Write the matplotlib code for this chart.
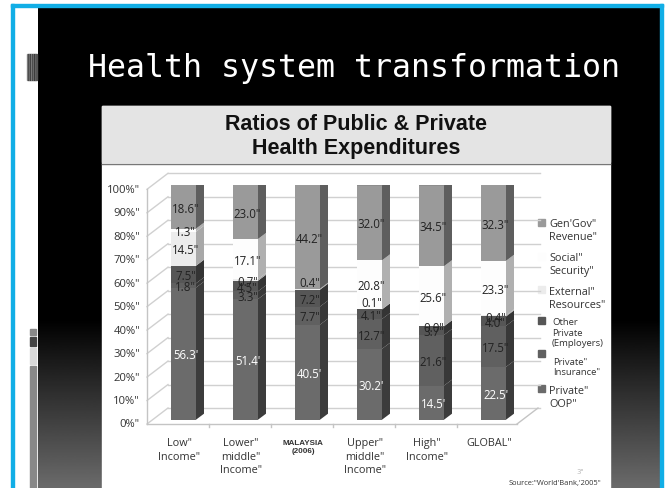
import numpy as np
import matplotlib
matplotlib.use("Agg")
import matplotlib.pyplot as plt
from matplotlib.patches import Rectangle, Polygon

W, H = 669, 489
categories = ["Low\"\nIncome\"", "Lower\"\nmiddle\"\nIncome\"", "MALAYSIA\n(2006)",
              "Upper\"\nmiddle\"\nIncome\"", "High\"\nIncome\"", "GLOBAL\""]
oop = [56.3, 51.4, 40.5, 30.2, 14.5, 22.5]
insurance = [1.8, 3.3, 7.7, 12.7, 21.6, 17.5]
other_private = [7.5, 4.5, 7.2, 4.1, 3.7, 4.0]
external = [14.5, 0.7, 0.4, 0.1, 0.0, 0.4]
social = [1.3, 17.1, 0.0, 20.8, 25.6, 23.3]
gov = [18.6, 23.0, 44.2, 32.0, 34.5, 32.3]
oop_lab = ["56.3'", "51.4'", "40.5'", "30.2'", "14.5'", "22.5'"]
y_ticks = [0, 10, 20, 30, 40, 50, 60, 70, 80, 90, 100]
title_text = "Health system transformation"
panel_title = "Ratios of Public & Private\nHealth Expenditures"
legend_labels = ["Gen'Gov\"\nRevenue\"", "Social\"\nSecurity\"", "External\"\nResources\"",
                 "Other\nPrivate\n(Employers)", "Private\"\nInsurance\"", "Private\"\nOOP\""]
source = "Source:\"World'Bank,'2005\""

series = [oop, insurance, other_private, external, social, gov]
front = ["#6b6b6b", "#606060", "#565656", "#ececec", "#fdfdfd", "#9a9a9a"]
side = ["#3c3c3c", "#383838", "#343434", "#a8a8a8", "#b0b0b0", "#5e5e5e"]
top_col = "#666666"
txt = ["white", "#222222", "#222222", "#222222", "#222222", "#222222"]
label_font = ["Open Sans", "DejaVu Sans"]

fig = plt.figure(figsize=(W / 100, H / 100), dpi=100, facecolor="white")

bg = fig.add_axes([0, 0, 1, 1])
bg.axis("off")
rows = np.arange(8, 489)
shade = np.where(rows < 320, 0.0, (rows - 320) / 169 * 0.42)[:, None]
bg.imshow(shade, cmap="gray", vmin=0, vmax=1, extent=[38, 660, 489, 8],
          aspect="auto", zorder=1)
bg.set_xlim(0, W); bg.set_ylim(H, 0)
cy = "#11aee6"
bg.add_patch(Rectangle((11, 5), 652, 3, color=cy, zorder=3))
bg.add_patch(Rectangle((11, 5), 3, 484, color=cy, zorder=3))
bg.add_patch(Rectangle((660, 5), 3, 484, color=cy, zorder=3))
for k, c in enumerate(["#8a8a8a", "#444444", "#777777", "#333333", "#888888", "#444444", "#777777", "#333333", "#666666", "#555555"]):
    bg.add_patch(Rectangle((27 + k, 55), 1, 26, color=c, zorder=3))
for y0, h, c in [(330, 6, "#888888"), (338, 9, "#444444"), (349, 16, "#d8d8d8"), (367, 122, "#888888")]:
    bg.add_patch(Rectangle((30, y0), 6, h, color=c, zorder=3))
bg.add_patch(Rectangle((102, 107), 508, 382, color="white", zorder=2))
bg.add_patch(Rectangle((102, 107), 508, 56, color="#e4e4e4", zorder=2.1))
bg.plot([102, 610], [164.5, 164.5], color="#777777", lw=1, zorder=2.2)
bg.text(354, 69, title_text, color="white", fontsize=22.8, family="DejaVu Sans Mono",
        ha="center", va="center", zorder=4)
bg.text(356, 136.5, panel_title, color="#111111", fontsize=15.5, fontweight="bold",
        family="Liberation Sans", ha="center", va="center", linespacing=1.18, zorder=4)

leg_c = [front[5], front[4], front[3], front[2], front[1], front[0]]
leg_top = [220, 254, 287, 318, 351, 386]
for sy, c in zip(leg_top, leg_c):
    bg.add_patch(Rectangle((538, sy), 7, 7, color=c, zorder=4))
leg_txt_y = [231, 265, 299, 333, 367.5, 398]
for lab, y, fs, x in zip(legend_labels, leg_txt_y, [7.8, 7.8, 7.8, 6.8, 6.8, 7.8],
                         [549, 549, 549, 552, 553, 549]):
    bg.text(x, y, lab, fontsize=fs, color="#333333", ha="left", va="center",
            family=label_font, linespacing=1.25, zorder=4)
bg.text(601, 483, source, fontsize=5.4, color="#333333", ha="right", va="center",
        family=label_font, zorder=4)
bg.text(580, 472, "3\"", fontsize=5, color="#bbbbbb", ha="center", va="center", zorder=4)

x0, x1 = 147, 517
y_base, y_top = 420.7, 186
ax = fig.add_axes([x0 / W, 1 - y_base / H, (x1 - x0) / W, (y_base - y_top) / H])
ax.patch.set_alpha(0)
ax.set_ylim(0, 100)
ax.set_xlim((x0 - 183.5) / 62, (x1 - 183.5) / 62)
for s in ax.spines.values():
    s.set_visible(False)
ax.set_xticks([]); ax.set_yticks([])

px_x = 62.0
px_y = (y_base - y_top) / 100
dx, dy = 8 / px_x, 6 / px_y
wid = 25 / px_x
wx, wy = 21 / px_x, 16 / px_y
fy = -4.3 / px_y
xa, xb = ax.get_xlim()
for t in y_ticks:
    yf = t + fy
    ax.plot([xa, xa + wx], [yf, yf + wy], color="#d0d0d0", lw=1, clip_on=False, zorder=1)
    ax.plot([xa + wx, xb + wx + 0.03], [yf + wy, yf + wy], color="#d0d0d0", lw=1, clip_on=False, zorder=1)
    ax.text(xa - 7 / px_x, yf, f"{t}%\"", ha="right", va="center", fontsize=8.1,
            family=label_font, color="#333333", clip_on=False)
ax.plot([xa, xb], [fy, fy], color="#c4c4c4", lw=1, clip_on=False, zorder=1)
ax.plot([xa, xa], [fy, 100 + fy], color="#c4c4c4", lw=1, clip_on=False, zorder=1)
ax.plot([xb, xb + wx], [fy, fy + wy], color="#c4c4c4", lw=1, clip_on=False, zorder=1)

# labels of very thin segments sit above their segment in the reference
thin_shift = {(2, 3): 3.4, (3, 3): 3.4}

for i in range(len(categories)):
    bottom = 0.0
    for j, vals in enumerate(series):
        v = vals[i]
        if v <= 0:
            continue
        ax.bar(i, v, width=wid, bottom=bottom, color=front[j], linewidth=0, zorder=3)
        xr = i + wid / 2
        ax.add_patch(Polygon([(xr, bottom), (xr + dx, bottom + dy), (xr + dx, bottom + v + dy), (xr, bottom + v)],
                             closed=True, facecolor=side[j], edgecolor="none", zorder=3))
        bottom += v
    xl = i - wid / 2
    ax.add_patch(Polygon([(xl, bottom), (xl + dx, bottom + dy), (xl + wid + dx, bottom + dy), (xl + wid, bottom)],
                         closed=True, facecolor=top_col, edgecolor="none", zorder=3))
    bottom = 0.0
    for j, vals in enumerate(series):
        v = vals[i]
        if j == 4 and v == 0:
            continue
        label = oop_lab[i] if j == 0 else f"{v:.1f}\""
        ax.text(i + 2 / px_x, bottom + v / 2 - 0.5 + thin_shift.get((i, j), 0), label,
                ha="center", va="center", fontsize=8.3, family=label_font,
                color=txt[j], zorder=5, clip_on=False)
        bottom += v

label_dx = -4.5 / px_x
for i, c in enumerate(categories):
    if i == 2:
        ax.text(i + label_dx, -11.4, c, ha="center", va="center", fontsize=5.8,
                fontweight="bold", family="Liberation Sans", color="#333333",
                linespacing=1.2, zorder=5, clip_on=False)
    else:
        ax.text(i + label_dx, -7.5, c, ha="center", va="top", fontsize=7.8,
                family=label_font, color="#333333", linespacing=1.3, clip_on=False)
    if i < len(categories) - 1:
        xt = i + 0.5 - 6 / px_x
        ax.plot([xt, xt], [fy, fy - 1.2], color="#c4c4c4", lw=1, clip_on=False, zorder=1)

fig.savefig("out.png", dpi=100)
